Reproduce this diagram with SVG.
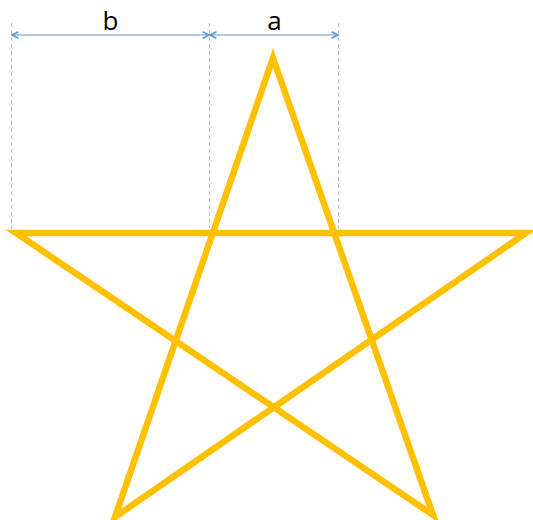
<svg xmlns="http://www.w3.org/2000/svg" width="533" height="520" viewBox="0 0 533 520">
  <style>
    .guide { stroke: #BFBFBF; stroke-width: 1; stroke-dasharray: 4 3; fill: none; }
    .dim { stroke: #5B9BD5; stroke-width: 1.2; fill: none; marker-start: url(#arr); marker-end: url(#arr); }
    .lbl { font-family: "Open Sans", "Liberation Sans", sans-serif; font-size: 26px; fill: #000; text-anchor: middle; }
    .star { fill: none; stroke: #FFC000; stroke-width: 6.5; stroke-linejoin: miter; stroke-miterlimit: 10; }
  </style>
  <defs>
    <marker id="arr" viewBox="0 0 10 10" refX="9" refY="5" markerWidth="8" markerHeight="8" markerUnits="userSpaceOnUse" orient="auto-start-reverse">
      <path d="M1,1 L9,5 L1,9" fill="none" stroke="#5B9BD5" stroke-width="2"/>
    </marker>
  </defs>
  <g id="guides">
    <line class="guide" x1="11.5" y1="23" x2="11.5" y2="228"/>
    <line class="guide" x1="209.5" y1="23" x2="209.5" y2="228"/>
    <line class="guide" x1="338.5" y1="23" x2="338.5" y2="228"/>
  </g>
  <g id="connectors">
    <line class="dim" x1="12" y1="35" x2="209" y2="35"/>
    <line class="dim" x1="210" y1="35" x2="338" y2="35"/>
  </g>
  <g id="label-b"><text class="lbl" x="110.5" y="29.5">b</text></g>
  <g id="label-a"><text class="lbl" x="274.5" y="29.5">a</text></g>
  <g id="star">
    <polygon class="star" points="273,58 433,515 16,233 526,233 115,517"/>
  </g>
</svg>
